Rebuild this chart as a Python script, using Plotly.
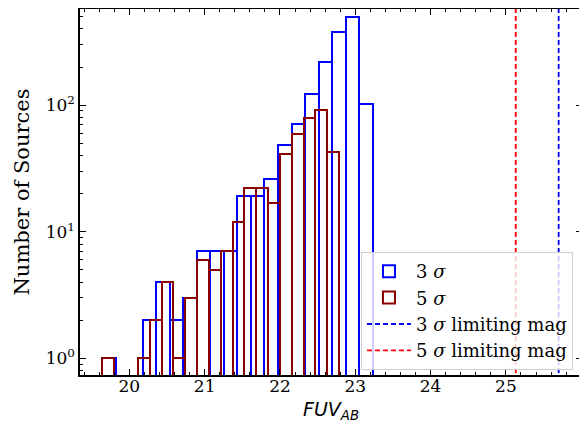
"""plot.py - FUV 等級のヒストグラム (3σ / 5σ) を plotly で再現する。"""

import numpy as np
import plotly.graph_objects as go

# 3σ 検出: 20 ビン
blue_lo, blue_hi = 19.641, 23.23
blue_counts = [1, 0, 0, 2, 4, 2, 3, 7, 7, 7, 19, 19, 26, 48, 71, 122, 220, 380, 494, 102]

# 5σ 検出: 20 ビン
red_lo, red_hi = 19.641, 22.786
red_counts = [1, 0, 0, 1, 2, 4, 1, 3, 6, 5, 7, 12, 22, 22, 17, 41, 59, 79, 91, 43]

# 限界等級
lim_3sigma = 25.70
lim_5sigma = 25.13

x_ticks = [20, 21, 22, 23, 24, 25]
y_ticks = [1, 10, 100]
y_ticktext = ["10<sup>0</sup>", "10<sup>1</sup>", "10<sup>2</sup>"]

SERIF = "DejaVu Serif"


def hist_trace(lo, hi, counts, color, name):
    edges = np.linspace(lo, hi, len(counts) + 1)
    centers = (edges[:-1] + edges[1:]) / 2
    widths = np.diff(edges)
    y = [c if c > 0 else None for c in counts]
    return go.Bar(
        x=centers,
        y=y,
        width=widths,
        name=name,
        legendgroup=name,
        marker=dict(color="rgba(0,0,0,0)", line=dict(color=color, width=2)),
    )


fig = go.Figure()
fig.add_trace(hist_trace(blue_lo, blue_hi, blue_counts, "#0000ff", "3 <i>σ</i>"))
fig.add_trace(hist_trace(red_lo, red_hi, red_counts, "#8b0000", "5 <i>σ</i>"))

for lim, color, name in [
    (lim_3sigma, "#0000ff", "3 <i>σ</i> limiting mag"),
    (lim_5sigma, "#ff0000", "5 <i>σ</i> limiting mag"),
]:
    fig.add_trace(
        go.Scatter(
            x=[lim, lim],
            y=[0.1, 1e4],
            mode="lines",
            name=name,
            legendgroup=name,
            line=dict(color=color, width=1.8, dash="5px,3px"),
        )
    )

axis_common = dict(
    showline=True,
    linecolor="black",
    linewidth=1.5,
    mirror="allticks",
    ticks="inside",
    ticklen=6,
    tickwidth=1,
    tickcolor="black",
    showgrid=False,
    zeroline=False,
    automargin=False,
    tickfont=dict(family=SERIF, size=17, color="black"),
)

# ページ本体の既定マージン (8px) ぶん図を小さくする
fig.update_layout(
    width=579,
    height=420,
    margin=dict(l=72, r=5, t=1, b=53),
    paper_bgcolor="white",
    plot_bgcolor="white",
    barmode="overlay",
    bargap=0,
    legend=dict(
        x=0.982,
        y=0.336,
        xanchor="right",
        yanchor="top",
        bgcolor="rgba(255,255,255,0.8)",
        bordercolor="#d0d0d0",
        borderwidth=1,
        font=dict(family=SERIF, size=18, color="black"),
        itemwidth=44,
        tracegroupgap=0,
    ),
    xaxis=dict(
        axis_common,
        range=[19.345, 26.01],
        tickvals=x_ticks,
        ticklabelstandoff=-5,
        minor=dict(dtick=0.2, ticks="inside", ticklen=3, tickcolor="black"),
    ),
    yaxis=dict(
        axis_common,
        type="log",
        range=[-0.131, 2.759],
        tickvals=y_ticks,
        ticktext=y_ticktext,
        minor=dict(
            tickvals=[m * 10 ** d for d in range(-1, 3) for m in range(2, 10)],
            ticks="inside",
            ticklen=3,
            tickcolor="black",
        ),
        title=dict(
            text="Number of Sources",
            font=dict(family=SERIF, size=21, color="black"),
            standoff=10,
        ),
    ),
    annotations=[
        dict(
            text="<i>FUV<sub>AB</sub></i>",
            xref="paper",
            yref="paper",
            x=0.5,
            y=0,
            yanchor="middle",
            yshift=-35,
            showarrow=False,
            font=dict(family="DejaVu Sans", size=19, color="black"),
        )
    ],
)

fig.write_html("out.html")
